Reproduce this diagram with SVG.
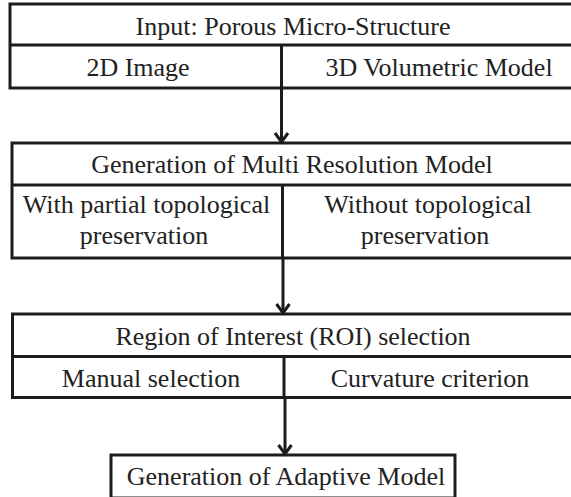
<svg xmlns="http://www.w3.org/2000/svg" width="571" height="497" viewBox="0 0 571 497">
<style>
.b{fill:#fff;stroke:#1c1c1c;stroke-width:3}
.l{stroke:#1c1c1c;stroke-width:3;fill:none}
.t{font-size:26px;fill:#222;text-anchor:middle}
.c{stroke:#1c1c1c;stroke-width:3;fill:none}
.h{stroke:#1c1c1c;stroke-width:3;fill:none;stroke-linejoin:miter}
</style>
<rect width="571" height="497" fill="#fff"/>
<g font-family="'Liberation Serif', 'DejaVu Serif', serif">
<g id="input">
<rect class="b" x="10" y="4" width="570" height="84"/>
<line class="l" x1="10" y1="45" x2="580" y2="45"/>
<line class="l" x1="281.5" y1="45" x2="281.5" y2="88"/>
<text class="t" x="293" y="35">Input: Porous Micro-Structure</text>
<text class="t" x="138" y="76">2D Image</text>
<text class="t" x="439" y="76">3D Volumetric Model</text>
</g>
<g id="multires">
<rect class="b" x="12" y="143" width="568" height="115"/>
<line class="l" x1="12" y1="185" x2="580" y2="185"/>
<line class="l" x1="282.5" y1="185" x2="282.5" y2="258"/>
<text class="t" x="292" y="173">Generation of Multi Resolution Model</text>
<text class="t" x="146.5" y="213">With partial topological</text>
<text class="t" x="144" y="243.5">preservation</text>
<text class="t" x="428" y="213">Without topological</text>
<text class="t" x="425" y="243.5">preservation</text>
</g>
<g id="roi">
<rect class="b" x="12.5" y="314" width="568" height="83.5"/>
<line class="l" x1="12.5" y1="356.5" x2="580" y2="356.5"/>
<line class="l" x1="284" y1="356.5" x2="284" y2="397.5"/>
<text class="t" x="293" y="345">Region of Interest (ROI) selection</text>
<text class="t" x="151" y="387">Manual selection</text>
<text class="t" x="430" y="387">Curvature criterion</text>
</g>
<g id="adaptive">
<rect class="b" x="111" y="455" width="344" height="43"/>
<text class="t" x="286" y="485">Generation of Adaptive Model</text>
</g>
</g>
<g id="connectors">
<line class="c" x1="281.5" y1="88" x2="281.5" y2="142"/>
<path class="h" d="M275 133 L281.5 142 L288 133"/>
<line class="c" x1="283" y1="258" x2="283" y2="313"/>
<path class="h" d="M276.5 304 L283 313 L289.5 304"/>
<line class="c" x1="285" y1="397.5" x2="285" y2="454"/>
<path class="h" d="M278.5 445 L285 454 L291.5 445"/>
</g>
</svg>
